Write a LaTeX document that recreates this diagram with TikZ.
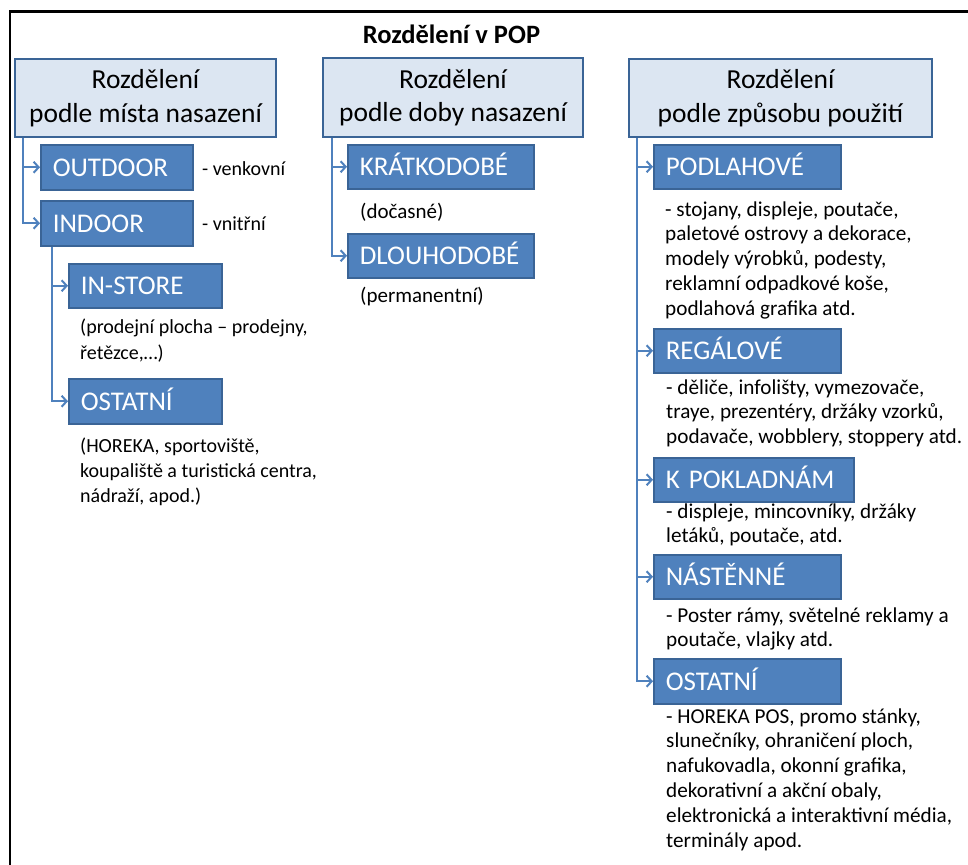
\documentclass[tikz,border=0pt]{standalone}
\usepackage{fontspec}
\setmainfont{Carlito}
\usetikzlibrary{arrows.meta}
\definecolor{boxfill}{HTML}{4F81BD}
\definecolor{boxline}{HTML}{3A6496}
\definecolor{headfill}{HTML}{DCE6F2}
\definecolor{connc}{HTML}{4F81BD}
\begin{document}
\begin{tikzpicture}[x=1pt,y=-1pt,
 head/.style={draw=boxline, fill=headfill, line width=2pt, anchor=north west, inner sep=0pt, align=center, font=\fontsize{27.5}{33.5}\selectfont},
 dbox/.style={draw=boxline, fill=boxfill, line width=1.5pt, anchor=north west, inner xsep=12pt, inner ysep=0pt, text=white, font=\fontsize{27}{31}\selectfont, text height=17.5pt, text depth=0pt, align=left},
 body/.style={anchor=base west, inner sep=0pt, font=\fontsize{20}{25}\selectfont},
 bodym/.style={body, font=\fontsize{21}{25}\selectfont},
 bodyr/.style={body, font=\fontsize{21.2}{24.8}\selectfont},
 arr/.style={draw=connc, line width=2pt, -{Straight Barb[length=5pt,width=11pt]}}
]
\useasboundingbox (0,0) rectangle (968,864);
\fill[white] (0,0) rectangle (968,864);
\draw[line width=2.5pt] (975,11.5) -- (10,11.5) -- (10,875);

\node[font=\bfseries\fontsize{26.5}{30}\selectfont, anchor=base, inner sep=0pt] (title) at (451.5,44) {Rozdělení v POP};

\node[head, minimum width=261pt, minimum height=78pt] (h1) at (14,58) {Rozdělení\\podle místa nasazení};
\node[head, minimum width=260pt, minimum height=79pt] (h2) at (322,57) {Rozdělení\\podle doby nasazení};
\node[head, minimum width=303pt, minimum height=78pt] (h3) at (628,58) {Rozdělení\\podle způsobu použití};

\node[dbox, text width=128pt, minimum height=45pt] (outdoor) at (40,144) {OUTDOOR};
\node[dbox, text width=128pt, minimum height=45pt] (indoor) at (40,200) {INDOOR};
\node[dbox, text width=129pt, minimum height=44pt] (instore) at (68,263) {IN-STORE};
\node[dbox, text width=129pt, minimum height=45pt] (ostL) at (68,378) {OSTATNÍ};
\node[dbox, text width=162pt, minimum height=44pt] (kratko) at (347,144) {KRÁTKODOBÉ};
\node[dbox, text width=162pt, minimum height=44pt] (dlouho) at (347,233) {DLOUHODOBÉ};
\node[dbox, text width=163pt, minimum height=44pt] (podl) at (653,144) {PODLAHOVÉ};
\node[dbox, text width=163pt, minimum height=44pt] (regal) at (653,328) {REGÁLOVÉ};
\node[dbox, text width=176pt, minimum height=44pt] (pokl) at (653,457) {K POKLADNÁM};
\node[dbox, text width=163pt, minimum height=44pt] (nast) at (653,554) {NÁSTĚNNÉ};
\node[dbox, text width=163pt, minimum height=45pt] (ostR) at (653,658) {OSTATNÍ};

\node[body] (t1) at (202,175) {- venkovní};
\node[body] (t2) at (202,230) {- vnitřní};
\node[body] (t3) at (80,333) {\vtop{\baselineskip=26pt\hbox{(prodejní plocha – prodejny,}\hbox{řetězce,…)}}};
\node[body] (t4) at (80,452) {\vtop{\hbox{(HOREKA, sportoviště,}\hbox{koupaliště a turistická centra,}\hbox{nádraží, apod.)}}};
\node[bodym] (t5) at (360,218) {(dočasné)};
\node[bodym] (t6) at (360,302) {(permanentní)};
\node[bodyr] (t7) at (665,216) {\vtop{\hbox{- stojany, displeje, poutače,}\hbox{paletové ostrovy a dekorace,}\hbox{modely výrobků, podesty,}\hbox{reklamní odpadkové koše,}\hbox{podlahová grafika atd.}}};
\node[bodyr] (t8) at (666,394) {\vtop{\hbox{- děliče, infolišty, vymezovače,}\hbox{traye, prezentéry, držáky vzorků,}\hbox{podavače, wobblery, stoppery atd.}}};
\node[bodyr] (t9) at (666,518) {\vtop{\hbox{- displeje, mincovníky, držáky}\hbox{letáků, poutače, atd.}}};
\node[bodyr] (t10) at (666,622) {\vtop{\hbox{- Poster rámy, světelné reklamy a}\hbox{poutače, vlajky atd.}}};
\node[bodyr] (t11) at (666,723) {\vtop{\hbox{- HOREKA POS, promo stánky,}\hbox{slunečníky, ohraničení ploch,}\hbox{nafukovadla, okonní grafika,}\hbox{dekorativní a akční obaly,}\hbox{elektronická a interaktivní média,}\hbox{terminály apod.}}};

\coordinate (c1) at (23,0);
\coordinate (c2) at (52,0);
\coordinate (c3) at (332,0);
\coordinate (c4) at (637,0);
\draw[arr] (c1 |- h1.south) |- (outdoor.west);
\draw[arr] (c1 |- h1.south) |- (indoor.west);
\draw[arr] (c2 |- indoor.south) |- (instore.west);
\draw[arr] (c2 |- indoor.south) |- (ostL.west);
\draw[arr] (c3 |- h2.south) |- (kratko.west);
\draw[arr] (c3 |- h2.south) |- (dlouho.west);
\draw[arr] (c4 |- h3.south) |- (podl.west);
\draw[arr] (c4 |- h3.south) |- (regal.west);
\draw[arr] (c4 |- h3.south) |- (pokl.west);
\draw[arr] (c4 |- h3.south) |- (nast.west);
\draw[arr] (c4 |- h3.south) |- (ostR.west);
\end{tikzpicture}
\end{document}
